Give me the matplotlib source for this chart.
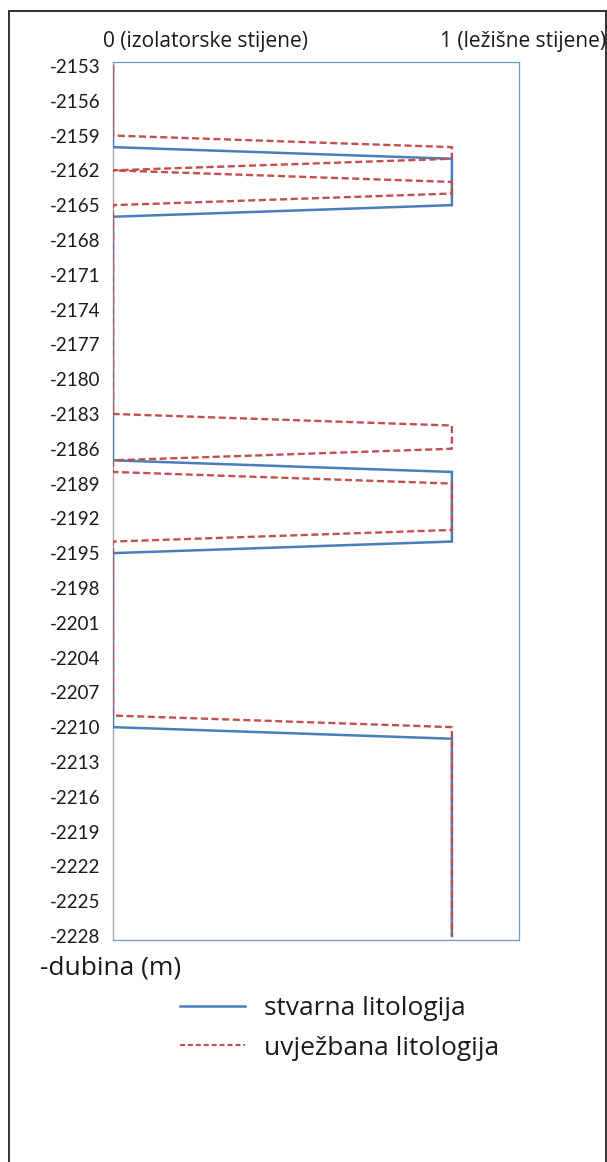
import matplotlib
matplotlib.use("Agg")
import matplotlib.pyplot as plt
from matplotlib.lines import Line2D
from matplotlib.patches import Rectangle

# depth (m), sampled every metre
depth = [-2153, -2154, -2155, -2156, -2157, -2158, -2159, -2160, -2161, -2162,
         -2163, -2164, -2165, -2166, -2167, -2168, -2169, -2170, -2171, -2172,
         -2173, -2174, -2175, -2176, -2177, -2178, -2179, -2180, -2181, -2182,
         -2183, -2184, -2185, -2186, -2187, -2188, -2189, -2190, -2191, -2192,
         -2193, -2194, -2195, -2196, -2197, -2198, -2199, -2200, -2201, -2202,
         -2203, -2204, -2205, -2206, -2207, -2208, -2209, -2210, -2211, -2212,
         -2213, -2214, -2215, -2216, -2217, -2218, -2219, -2220, -2221, -2222,
         -2223, -2224, -2225, -2226, -2227, -2228]

# stvarna litologija (real lithology): 0 = insulating, 1 = reservoir
stvarna = [0, 0, 0, 0, 0, 0, 0, 0, 1, 1,
           1, 1, 1, 0, 0, 0, 0, 0, 0, 0,
           0, 0, 0, 0, 0, 0, 0, 0, 0, 0,
           0, 0, 0, 0, 0, 1, 1, 1, 1, 1,
           1, 1, 0, 0, 0, 0, 0, 0, 0, 0,
           0, 0, 0, 0, 0, 0, 0, 0, 1, 1,
           1, 1, 1, 1, 1, 1, 1, 1, 1, 1,
           1, 1, 1, 1, 1, 1]

# uvjezbana litologija (trained / predicted lithology)
uvjezbana = [0, 0, 0, 0, 0, 0, 0, 1, 1, 0,
             1, 1, 0, 0, 0, 0, 0, 0, 0, 0,
             0, 0, 0, 0, 0, 0, 0, 0, 0, 0,
             0, 1, 1, 1, 0, 0, 1, 1, 1, 1,
             1, 0, 0, 0, 0, 0, 0, 0, 0, 0,
             0, 0, 0, 0, 0, 0, 0, 1, 1, 1,
             1, 1, 1, 1, 1, 1, 1, 1, 1, 1,
             1, 1, 1, 1, 1, 1]

ytick_values = [-2153, -2156, -2159, -2162, -2165, -2168, -2171, -2174, -2177,
                -2180, -2183, -2186, -2189, -2192, -2195, -2198, -2201, -2204,
                -2207, -2210, -2213, -2216, -2219, -2222, -2225, -2228]

top_label_0 = "0 (izolatorske stijene)"
top_label_1 = "1 (ležišne stijene)"
y_title = "-dubina (m)"
series_names = ["stvarna litologija", "uvježbana litologija"]

BLUE = "#4A7EBB"
RED = "#C0504D"
TXT = "#1a1a1a"

W, H = 607, 1162
fig = plt.figure(figsize=(W / 100, H / 100), dpi=100)
fig.patch.set_facecolor("white")

# outer frame
fig.add_artist(Rectangle((9 / W, -0.01), (606 - 9) / W, (H - 11) / H + 0.01,
                         transform=fig.transFigure, fill=False,
                         edgecolor="#222222", linewidth=1.3))

ax = fig.add_axes([113 / W, 222 / H, 406 / W, 878 / H])
ax.plot(stvarna, depth, color=BLUE, lw=1.8, solid_joinstyle="miter", zorder=3)
ax.plot(uvjezbana, depth, color=RED, lw=1.7, linestyle=(0, (3.0, 1.5)), zorder=4)

ax.set_xlim(0, 1.198)
ax.set_ylim(-2228.35, -2152.66)
ax.set_xticks([])
ax.set_yticks(ytick_values)
ax.set_yticklabels([str(v) for v in ytick_values], family="Lato", fontsize=13.5,
                   color=TXT)
ax.tick_params(axis="y", length=0, pad=9)

for s in ["top", "right", "bottom"]:
    ax.spines[s].set_color("#6F97CF")
    ax.spines[s].set_linewidth(0.9)
ax.spines["left"].set_color("#A6A6A6")
ax.spines["left"].set_linewidth(1.0)

fig.text(103 / W, 1 - 41 / H, top_label_0, family="Open Sans", fontsize=15,
         va="center", ha="left", color=TXT)
fig.text(440 / W, 1 - 41 / H, top_label_1, family="Open Sans", fontsize=15,
         va="center", ha="left", color=TXT)
fig.text(40 / W, 1 - 968 / H, y_title, family="Open Sans", fontsize=19,
         va="center", ha="left", color=TXT)

handles = [Line2D([], [], color=BLUE, lw=1.8),
           Line2D([], [], color=RED, lw=1.5, linestyle=(0, (2.4, 1.4)))]
leg = fig.legend(handles, series_names, loc="upper left",
                 bbox_to_anchor=(180 / W, 1 - 996 / H),
                 frameon=False, prop={"family": "Open Sans", "size": 19},
                 handlelength=2.46, handletextpad=0.72, labelspacing=0.55,
                 borderpad=0, borderaxespad=0)
for t in leg.get_texts():
    t.set_color(TXT)

fig.savefig("out.png", dpi=100, facecolor="white")
